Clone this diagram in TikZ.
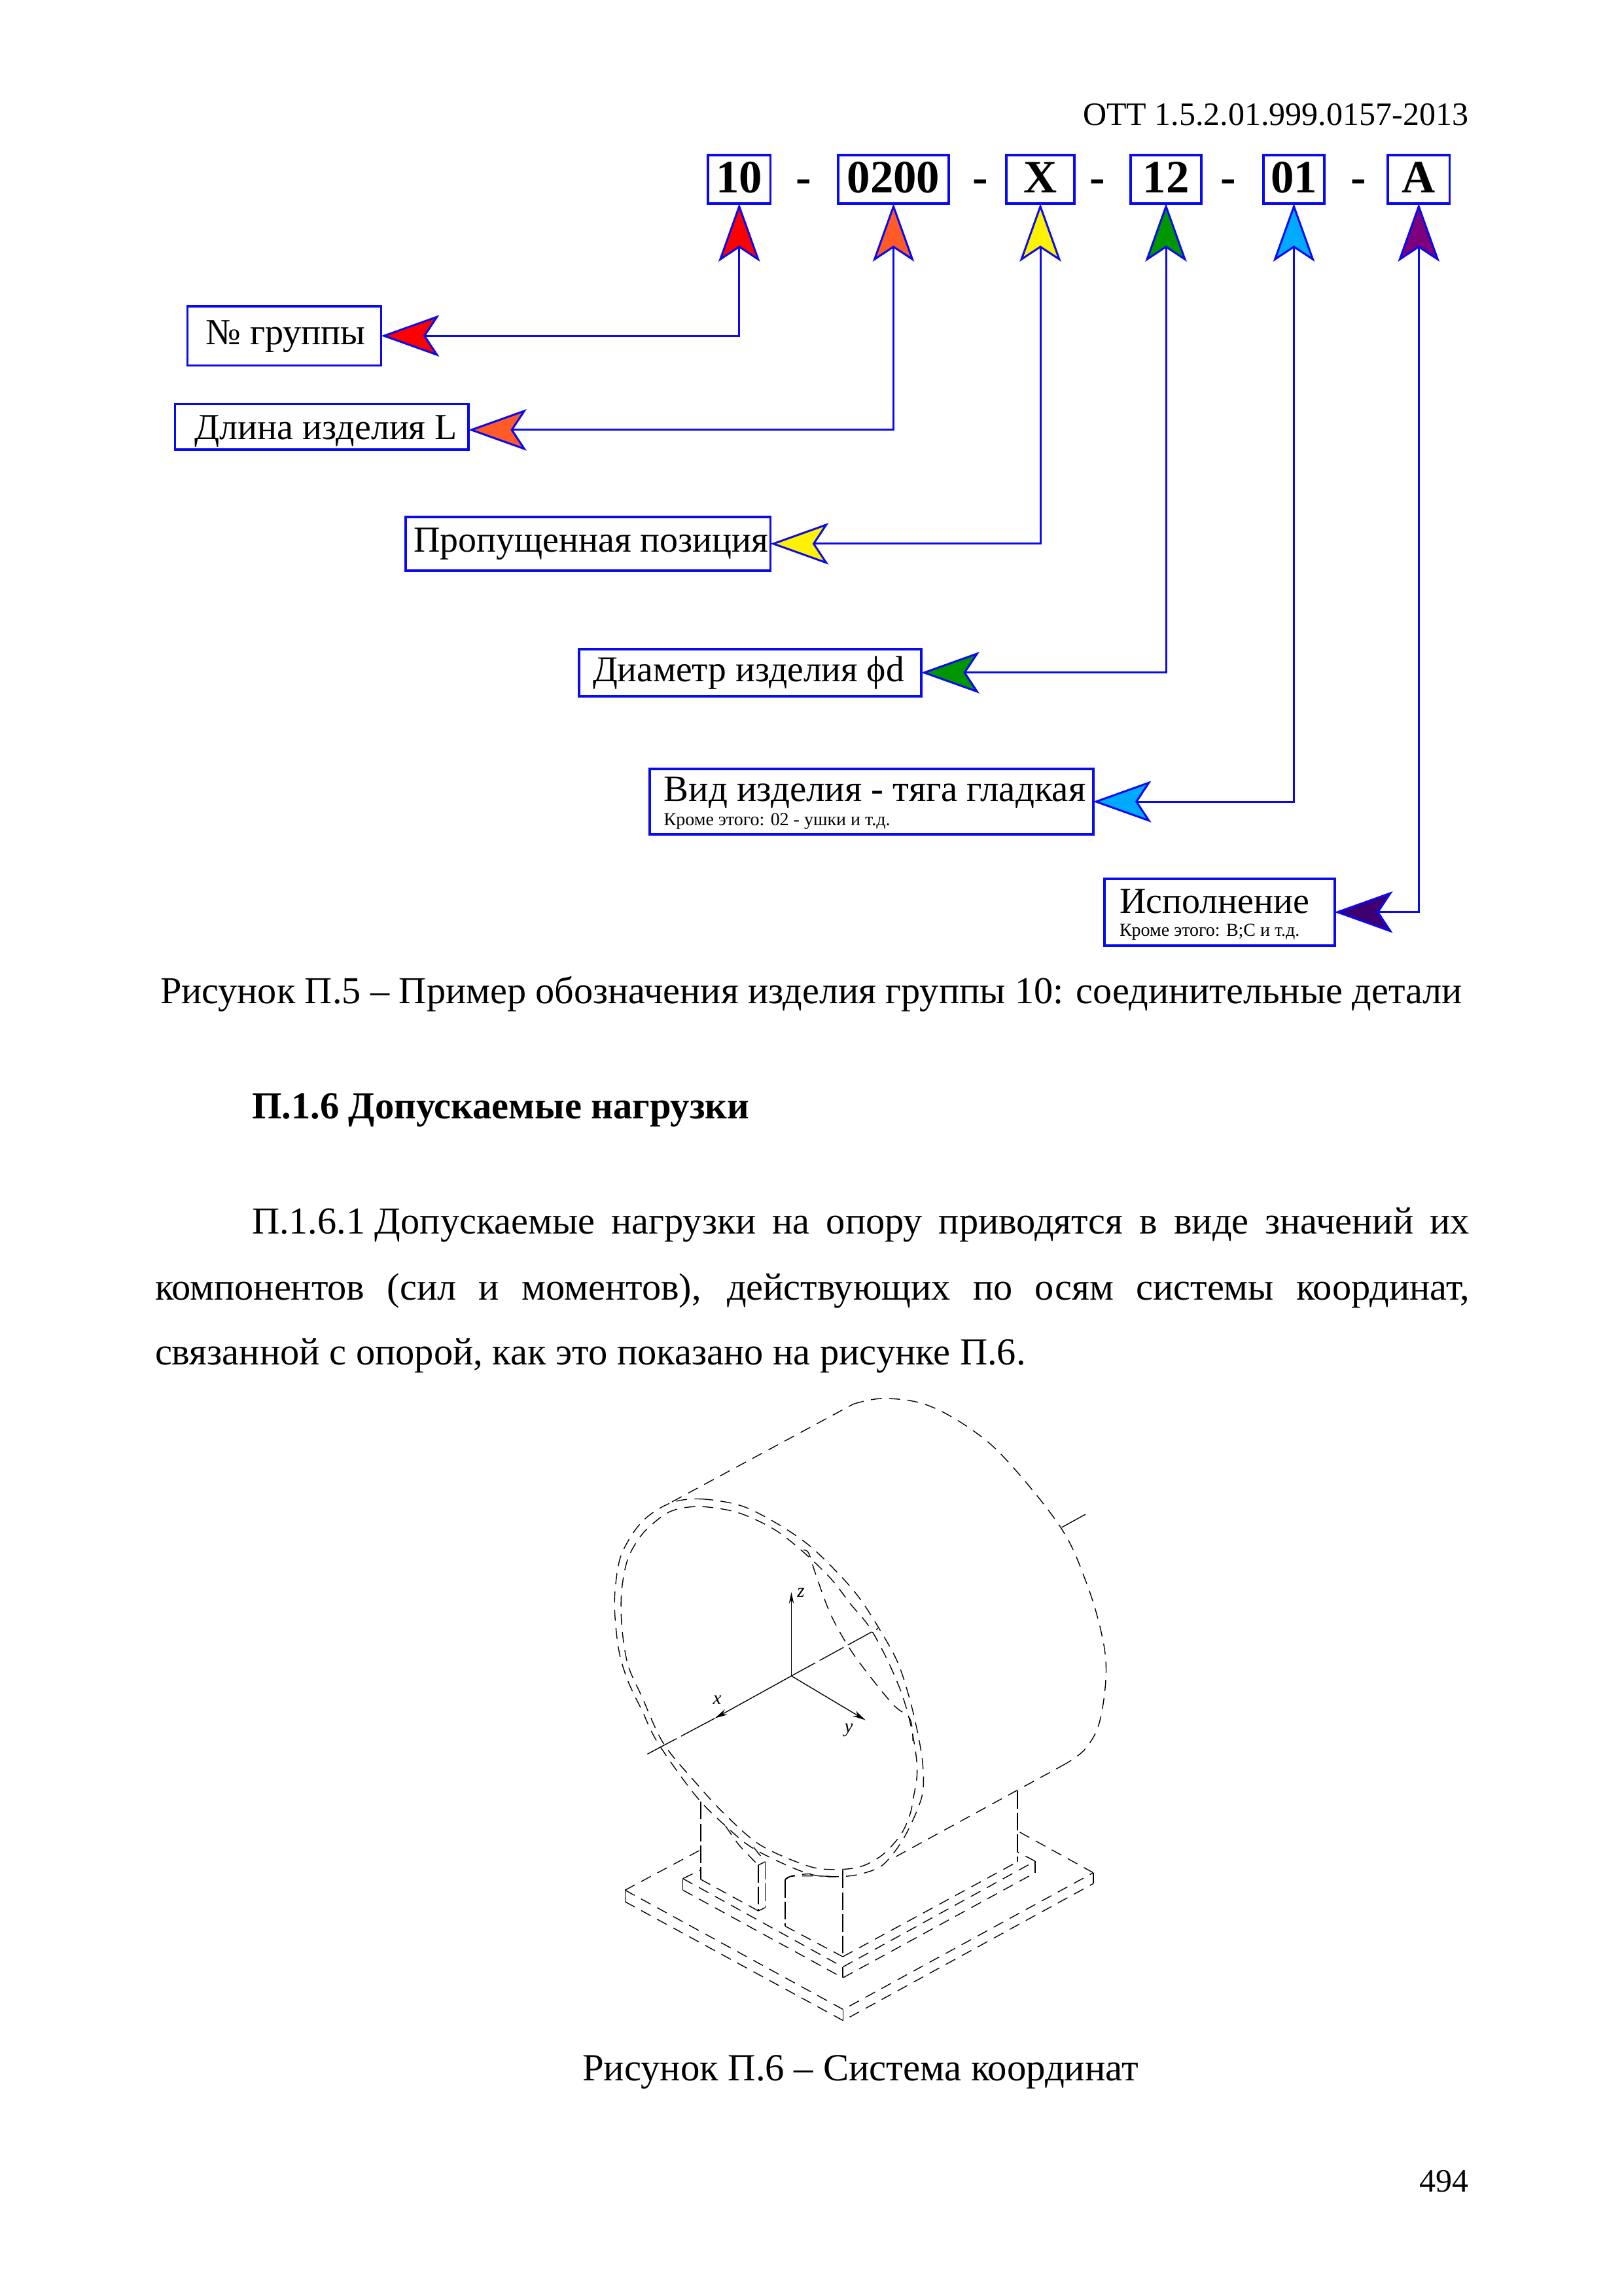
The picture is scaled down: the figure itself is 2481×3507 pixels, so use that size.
\documentclass[tikz,border=0pt]{standalone}
\usepackage{fontspec}
\usepackage{graphicx}
\setmainfont{Liberation Serif}
\usetikzlibrary{arrows.meta}
\definecolor{refblue}{RGB}{10,10,240}
\definecolor{hOrange}{RGB}{255,90,40}
\definecolor{hGreen}{RGB}{0,150,0}
\definecolor{hSky}{RGB}{0,170,255}
\definecolor{hPurple}{RGB}{125,0,125}
\definecolor{hDeep}{RGB}{62,0,112}
\tikzset{
 boxs/.style={draw=refblue,fill=white,line width=.9pt,inner sep=0pt,outer sep=0pt,anchor=center},
 numbox/.style={boxs,font=\fontsize{17}{20}\selectfont\bfseries},
 conn/.style={draw=refblue,line width=.72pt},
 mk/.style n args={2}{arrows={{Stealth[length=21.3pt,width=15.2pt,inset=5pt,fill=#1]}-{Stealth[length=21.3pt,width=15.2pt,inset=5pt,fill=#2]}}},
 body/.style={inner sep=0pt,outer sep=0pt,anchor=base west,font=\fontsize{14}{16}\selectfont},
 bodyr/.style={body,anchor=base east},
 sepdash/.style={inner sep=0pt,anchor=base,font=\fontsize{17}{20}\selectfont\bfseries},
 hid/.style={line width=.33pt,dash pattern=on 4pt off 2.7pt},
 longd/.style={line width=.33pt,dash pattern=on 6.5pt off 1.5pt},
 thin solid/.style={line width=.33pt},
 axlab/.style={inner sep=0pt,font=\fontsize{7}{8}\selectfont\itshape},
}
\newcommand\fitw[2]{\resizebox{#1pt}{!}{#2}}
\newcommand\lblbox[8]{%
 \pgfmathsetmacro\lbW{(#4-#2)*.24}\pgfmathsetmacro\lbH{(#5-#3)*.24}%
 \pgfmathsetmacro\lbT{(#7-#3)*.24}\pgfmathsetmacro\lbD{(#5-#7)*.24}%
 \pgfmathsetmacro\lbI{(#6-#2)*.24}%
 \node[boxs,minimum width=\lbW pt,minimum height=\lbH pt,text height=\lbT pt,text depth=\lbD pt] (#1) at ({(#2+#4)/2},{(#3+#5)/2}) {\makebox[\lbW pt][l]{\hspace*{\lbI pt}#8}};}
\newcommand\nbox[6]{%
 \pgfmathsetmacro\lbW{(#4-#2)*.24}\pgfmathsetmacro\lbH{(#5-#3)*.24}%
 \pgfmathsetmacro\lbT{(295-#3)*.24}\pgfmathsetmacro\lbD{(#5-295)*.24}%
 \node[numbox,minimum width=\lbW pt,minimum height=\lbH pt,text height=\lbT pt,text depth=\lbD pt] (#1) at ({(#2+#4)/2},{(#3+#5)/2}) {#6};}
\begin{document}
\begin{tikzpicture}[x=.24pt,y=-.24pt]
\useasboundingbox (0,0) rectangle (2481,3507);
\fill[white] (0,0) rectangle (2481,3507);

% header
\node[bodyr,font=\fontsize{12}{14}\selectfont] (hdr) at (2244,192) {ОТТ 1.5.2.01.999.0157-2013};

% code boxes
\nbox{b1}{1082}{237}{1177.5}{311}{10}
\nbox{b2}{1281}{237}{1450}{311}{0200}
\nbox{b3}{1538}{237}{1642}{311}{X}
\nbox{b4}{1728}{237}{1836}{311}{12}
\nbox{b5}{1931}{237}{2024}{311}{01}
\nbox{b6}{2121}{237}{2215.5}{311}{A}
\node[sepdash] (d1) at (1228.6,295) {-};
\node[sepdash] (d2) at (1498,295) {-};
\node[sepdash] (d3) at (1677,295) {-};
\node[sepdash] (d4) at (1877.5,295) {-};
\node[sepdash] (d5) at (2076,295) {-};

% label boxes
\lblbox{l1}{286.5}{468}{582.5}{558.4}{314.5}{526.5}{\fitw{58.6}{\fontsize{14}{16}\selectfont № группы}}
\lblbox{l2}{267.5}{617.6}{716}{687.3}{297.7}{671.8}{\fitw{96.3}{\fontsize{14}{16}\selectfont Длина изделия L}}
\lblbox{l3}{619.7}{790}{1177.4}{871.8}{632}{844}{\fitw{130.2}{\fontsize{14}{16}\selectfont Пропущенная позиция}}
\lblbox{l4}{885}{992}{1408}{1063.7}{906}{1042}{\fitw{114.2}{\fontsize{14}{16}\selectfont Диаметр изделия ϕd}}
\lblbox{l5}{993}{1175}{1670.6}{1275}{1014.7}{1225}{\makebox[0pt][l]{\fitw{154.7}{\fontsize{14}{16}\selectfont Вид изделия - тяга гладкая}}\raisebox{-8.8pt}{\fitw{83}{\fontsize{7}{8}\selectfont Кроме этого: 02 - ушки и т.д.}}}
\lblbox{l6}{1688}{1343}{2039.6}{1444.7}{1711}{1395}{\makebox[0pt][l]{\fitw{69.6}{\fontsize{14}{16}\selectfont Исполнение}}\raisebox{-8.6pt}{\fitw{66.1}{\fontsize{7}{8}\selectfont Кроме этого: B;C и т.д.}}}

% connectors
\draw[conn,mk={red}{red}] (l1.east) -| (b1.south);
\draw[conn,mk={hOrange}{hOrange}] ([yshift=-1.08pt]l2.east) -| (b2.south);
\draw[conn,mk={yellow}{yellow}] (l3.east) -| (b3.south);
\draw[conn,mk={hGreen}{hGreen}] (l4.east) -| (b4.south);
\draw[conn,mk={hSky}{hSky}] (l5.east) -| (b5.south);
\draw[conn,mk={hDeep}{hPurple}] (l6.east) -| (b6.south);

% text
\node[body] (cap5) at (245,1533) {\fitw{477.6}{\fontsize{14}{16}\selectfont Рисунок П.5 – Пример обозначения изделия группы 10: соединительные детали}};
\node[body] (head) at (385,1709) {\fitw{182.4}{\fontsize{14}{16}\selectfont\bfseries П.1.6 Допускаемые нагрузки}};
\node[body] (p1) at (385,1885) {\makebox[446.6pt][s]{П.1.6.1\hspace{3.5pt}Допускаемые нагрузки на опору приводятся в виде значений их}};
\node[body] (p2) at (237,1986) {\makebox[482.1pt][s]{компонентов (сил и моментов), действующих по осям системы координат,}};
\node[body] (p3) at (237,2085) {\fitw{319.4}{\fontsize{14}{16}\selectfont связанной с опорой, как это показано на рисунке П.6.}};
\node[body] (cap6) at (890,3179) {\fitw{204}{\fontsize{14}{16}\selectfont Рисунок П.6 – Система координат}};
\node[bodyr,font=\fontsize{12}{14}\selectfont] (pg) at (2244,3349) {494};

% ---------- isometric drawing ----------
% back cylinder outline
\draw[hid] (1027,2295) -- (1304,2145.6);
\draw[hid] plot[smooth,tension=.6] coordinates {(1304,2145.6) (1350,2137) (1415,2146.4) (1482.7,2183) (1539.7,2232.7) (1621,2334) (1659,2415) (1683,2494) (1690.4,2556) (1680.6,2630.7) (1659,2672) (1629,2695)};
\draw[hid] (1629,2695) -- (1360.8,2841.7);
\draw[thin solid] (1622.6,2334) -- (1659,2314);

% front rings
\draw[hid] plot[smooth cycle,tension=.55] coordinates {(1030,2294.9) (1073.5,2290.7) (1133,2301) (1187.3,2328) (1236,2361) (1279.5,2402.7) (1312,2440) (1341.8,2485.6) (1371.6,2539.5) (1390.6,2597.5) (1404,2655.6) (1410.6,2701) (1408.5,2746.8) (1382.5,2806.7) (1352.6,2846.7) (1328,2860) (1290.3,2867.3) (1236,2863.3) (1154.8,2826.7) (1108.7,2790) (1062.6,2743.3) (1005.7,2663.8) (981.3,2614) (959.6,2568.5) (946,2523) (939.6,2465) (940.7,2423) (948.8,2377.8) (970.5,2338.4) (994.9,2313.5)};
\draw[hid] plot[smooth cycle,tension=.55] coordinates {(1035.5,2306) (1073.5,2302.3) (1127.7,2311.4) (1182,2336.3) (1225.3,2369.5) (1268.6,2411) (1301,2452.4) (1328.3,2485.6) (1355.4,2535) (1377,2585) (1390.6,2630.7) (1399.8,2680.4) (1401.4,2713.6) (1396,2746.8) (1390.6,2773) (1377,2803) (1350,2833.3) (1317.4,2851.7) (1279.5,2856.7) (1236,2851.7) (1163,2820) (1108.7,2773.3) (1062.6,2723.3) (1013.8,2663.8) (981.3,2593.4) (959.6,2543.6) (950.4,2485.6) (950,2431.7) (959.6,2382) (981.3,2344.6) (1011,2317.7)};

% hidden curve in the opening
\draw[hid] plot[smooth,tension=.6] coordinates {(1228,2368.7) (1236,2373.6) (1247,2406.8) (1268.6,2464.8) (1295.7,2514.6) (1328.3,2560) (1366,2605.8) (1390.6,2626.5) (1395,2660)};

% axes
\coordinate (O) at (1209.5,2561);
\coordinate (Zt) at (1209.5,2433);
\coordinate (Xt) at (1092.4,2625.7);
\coordinate (Xe) at (989.4,2680.4);
\coordinate (Yt) at (1322.8,2628.6);
\coordinate (Ue) at (1341.8,2488.5);
\draw[thin solid,-{Stealth[length=4.2pt,width=1.8pt]}] (O) -- (Zt);
\draw[thin solid,-{Stealth[length=4.8pt,width=2.2pt]}] (O) -- (Xt);
\draw[thin solid,-{Stealth[length=4.8pt,width=2.2pt]}] (O) -- (Yt);
\draw[longd,dash pattern=on 14pt off 1.8pt] (Xt) -- (Xe);
\draw[longd,dash pattern=on 10pt off 1.8pt] (O) -- (Ue);
\node[axlab] (zl) at (1224,2434) {z};
\node[axlab] (xl) at (1096,2597.5) {x};
\node[axlab] (yl) at (1297,2644) {y};

% supports
\draw[longd] (1070.8,2753.3) -- (1070.8,2871.7);
\draw[longd] (1288.1,2858.3) -- (1288.1,2990);
\draw[longd] (1199.8,2872.7) -- (1199.8,2943.3);
\draw[longd] (1554.9,2736.7) -- (1554.9,2845);
\draw[longd] (1159,2850) -- (1159,2920);
\draw[longd] (1169.4,2845) -- (1169.4,2915);
\draw[thin solid] (1159,2850) -- (1169.4,2845);
\draw[thin solid] (1159,2920) -- (1169.4,2915);
\draw[hid] (1070.8,2871.7) -- (1159,2920);
\draw[hid] plot[smooth,tension=.5] coordinates {(1108.7,2790) (1130,2820) (1159,2850)};
\draw[hid] plot[smooth,tension=.5] coordinates {(1152,2823) (1169.4,2845)};
\draw[hid] (1199.8,2943.3) -- (1288.1,2990);
\draw[hid] (1288.1,2990) -- (1554.9,2845);
\draw[hid] plot[smooth,tension=.6] coordinates {(1199.8,2872.7) (1209,2867.3) (1247,2866.7) (1279.5,2867.7)};
\draw[hid] plot[smooth,tension=.6] coordinates {(1199.8,2872.7) (1212,2866) (1238.8,2863.3)};

% middle pad
\coordinate (mL) at (1043.7,2870.7);
\coordinate (mLb) at (1043.7,2888.3);
\coordinate (mB) at (1288.1,3005.7);
\coordinate (mBb) at (1288.1,3022.3);
\coordinate (mR) at (1582,2844);
\coordinate (mRb) at (1582,2861.7);
\draw[hid] (mL) -- (mB) -- (mR);
\draw[hid] (mLb) -- (mBb) -- (mRb);
\draw[thin solid] (mL) -- (mLb) (mB) -- (mBb) (mR) -- (mRb);
\draw[hid] (mL) -- (1070.8,2857.3);
\draw[hid] (mR) -- (1554.9,2830);

% base plate
\coordinate (pL) at (955.3,2888.3);
\coordinate (pLb) at (955.3,2906);
\coordinate (pB) at (1288.7,3070.7);
\coordinate (pBb) at (1288.7,3087.7);
\coordinate (pR) at (1670.9,2861.7);
\coordinate (pRb) at (1670.9,2878.3);
\draw[hid] (pL) -- (pB) -- (pR);
\draw[hid] (pLb) -- (pBb) -- (pRb);
\draw[thin solid] (pL) -- (pLb) (pB) -- (pBb) (pR) -- (pRb);
\draw[hid] (pL) -- (1070.8,2826.7);
\draw[hid] (pR) -- (1555.9,2798.3);
\end{tikzpicture}
\end{document}
